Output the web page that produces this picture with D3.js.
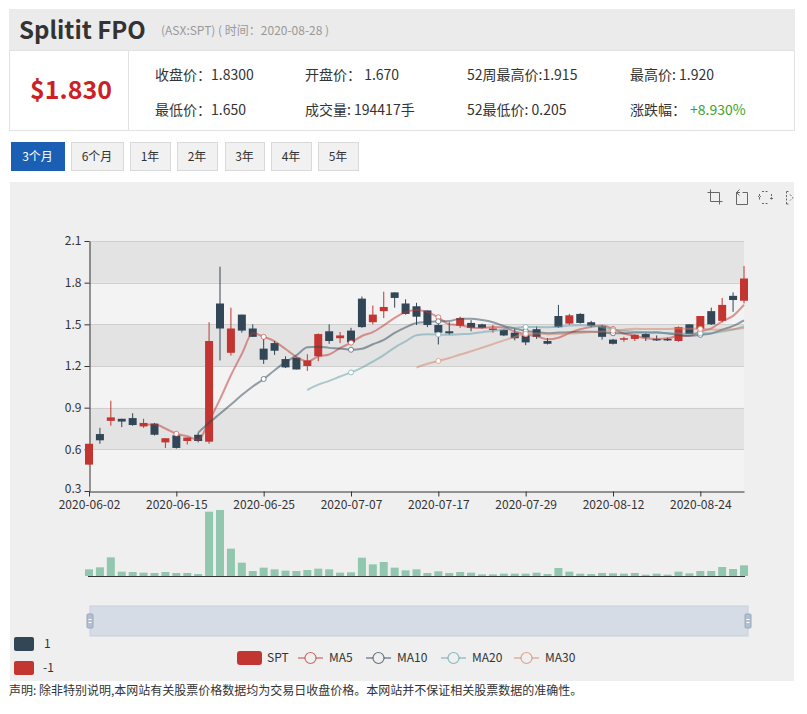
<!DOCTYPE html>
<html>
<head>
<meta charset="utf-8">
<script src="https://cdn.jsdelivr.net/npm/d3@7"></script>
<style>
  body { margin: 0; background: #fff; }
  svg { display: block; font-family: "Noto Sans CJK SC", "Noto Sans", sans-serif; }
</style>
</head>
<body>
<script>
// trading days shown in the 3 month view
var dates = [
  "2020-06-02","2020-06-03","2020-06-04","2020-06-05","2020-06-09","2020-06-10","2020-06-11","2020-06-12",
  "2020-06-15","2020-06-16","2020-06-17","2020-06-18","2020-06-19","2020-06-22","2020-06-23","2020-06-24",
  "2020-06-25","2020-06-26","2020-06-29","2020-06-30","2020-07-01","2020-07-02","2020-07-03","2020-07-06",
  "2020-07-07","2020-07-08","2020-07-09","2020-07-10","2020-07-13","2020-07-14","2020-07-15","2020-07-16",
  "2020-07-17","2020-07-20","2020-07-21","2020-07-22","2020-07-23","2020-07-24","2020-07-27","2020-07-28",
  "2020-07-29","2020-07-30","2020-07-31","2020-08-03","2020-08-04","2020-08-05","2020-08-06","2020-08-07",
  "2020-08-12","2020-08-13","2020-08-14","2020-08-17","2020-08-18","2020-08-19","2020-08-20","2020-08-21",
  "2020-08-24","2020-08-25","2020-08-26","2020-08-27","2020-08-28"
];
var opens = [
  0.49,0.71,0.805,0.82,0.825,0.765,0.785,0.65,0.70,0.66,0.705,0.655,1.65,1.295,1.57,1.47,
  1.325,1.365,1.25,1.26,1.20,1.27,1.45,1.40,1.455,1.685,1.515,1.595,1.73,1.65,1.63,1.60,
  1.495,1.45,1.49,1.51,1.50,1.46,1.46,1.44,1.42,1.465,1.38,1.56,1.505,1.575,1.515,1.485,
  1.39,1.39,1.395,1.43,1.395,1.395,1.38,1.50,1.465,1.595,1.525,1.705,1.67
];
var closes = [
  0.64,0.665,0.83,0.80,0.775,0.79,0.705,0.68,0.61,0.685,0.66,1.38,1.47,1.47,1.455,1.41,
  1.245,1.31,1.19,1.175,1.24,1.43,1.38,1.42,1.37,1.48,1.57,1.625,1.69,1.575,1.555,1.495,
  1.44,1.435,1.545,1.475,1.475,1.47,1.42,1.40,1.37,1.41,1.36,1.48,1.565,1.51,1.49,1.41,
  1.36,1.40,1.425,1.405,1.385,1.385,1.48,1.43,1.56,1.50,1.64,1.675,1.83
];
var lows = [
  0.49,0.64,0.77,0.76,0.77,0.755,0.70,0.61,0.605,0.635,0.65,0.64,1.24,1.275,1.44,1.41,
  1.215,1.28,1.185,1.175,1.165,1.235,1.36,1.365,1.35,1.475,1.50,1.545,1.62,1.57,1.495,1.48,
  1.355,1.425,1.475,1.45,1.47,1.44,1.415,1.385,1.35,1.395,1.355,1.475,1.495,1.505,1.48,1.39,
  1.355,1.375,1.38,1.38,1.38,1.38,1.375,1.43,1.445,1.495,1.515,1.59,1.65
];
var highs = [
  0.64,0.755,0.95,0.82,0.86,0.82,0.79,0.68,0.725,0.685,0.72,1.515,1.915,1.62,1.57,1.50,
  1.395,1.38,1.27,1.26,1.285,1.435,1.50,1.445,1.475,1.70,1.635,1.735,1.73,1.68,1.655,1.60,
  1.515,1.515,1.555,1.53,1.505,1.495,1.465,1.47,1.49,1.485,1.40,1.64,1.575,1.58,1.525,1.495,
  1.395,1.41,1.43,1.435,1.42,1.405,1.485,1.50,1.56,1.62,1.69,1.73,1.92
];
var volumes = [
  121500,158000,340200,79000,72900,60750,54700,72900,54700,54700,36450,1172500,1202900,498200,243000,91100,
  151900,121500,97200,91100,109400,133700,121500,60750,66800,334100,212600,255200,151900,103300,121500,54700,
  85000,54700,72900,60750,30400,30400,42500,42500,42500,60750,36450,145800,79000,42500,36450,54700,
  48600,42500,54700,24300,42500,24300,79000,48600,91100,91100,164000,127600,194417
];
var yTicks = [0.3, 0.6, 0.9, 1.2, 1.5, 1.8, 2.1];
var maDays = [5, 10, 20, 30];
var maNames = ["MA5", "MA10", "MA20", "MA30"];
var maColors = ["#c23531", "#2f4554", "#61a0a8", "#d48265"];
var periods = ["3个月", "6个月", "1年", "2年", "3年", "4年", "5年"];

var upColor = "#c23531", downColor = "#314656";

var width = 807, height = 714;
var svg = d3.select("body").append("svg")
    .attr("width", width)
    .attr("height", height);

// ---- header block ----
svg.append("rect").attr("x", 9).attr("y", 9).attr("width", 786).attr("height", 41).attr("fill", "#ebebeb");
svg.append("rect").attr("x", 9.5).attr("y", 50.5).attr("width", 785).attr("height", 80)
    .attr("fill", "#fff").attr("stroke", "#e2e2e2");
svg.append("line").attr("x1", 128.5).attr("x2", 128.5).attr("y1", 50).attr("y2", 130).attr("stroke", "#e2e2e2");

svg.append("text").attr("x", 19).attr("y", 39)
    .attr("font-size", 24).attr("font-weight", "bold").attr("fill", "#333")
    .text("Splitit FPO");
svg.append("text").attr("x", 161).attr("y", 35)
    .attr("font-size", 12).attr("fill", "#999")
    .text("(ASX:SPT) ( 时间：2020-08-28 )");

svg.append("text").attr("x", 30).attr("y", 99)
    .attr("font-size", 25).attr("font-weight", "bold").attr("fill", "#cc1f26")
    .text("$1.830");

var infoRows = [
  ["收盘价：1.8300", "开盘价：  1.670", "52周最高价:1.915", "最高价: 1.920"],
  ["最低价：1.650", "成交量: 194417手", "52最低价: 0.205", "涨跌幅："]
];
var infoCols = [155, 305, 467, 630];
infoRows.forEach(function(row, r) {
  row.forEach(function(t, c) {
    svg.append("text").attr("x", infoCols[c]).attr("y", 80 + r * 35)
      .attr("font-size", 14).attr("fill", "#333").text(t);
  });
});
svg.append("text").attr("x", 690).attr("y", 115)
    .attr("font-size", 14).attr("fill", "#3da22a").text("+8.930%");

// period buttons
var btnX = [11, 71, 130, 177, 225, 271, 318];
var btnW = [53, 52, 40, 40, 39, 40, 40];
periods.forEach(function(p, i) {
  var active = i === 0;
  svg.append("rect").attr("x", btnX[i] + 0.5).attr("y", 142.5).attr("width", btnW[i]).attr("height", 28)
    .attr("fill", active ? "#1b5fb4" : "#f1f1f1").attr("stroke", active ? "#1b5fb4" : "#d9d9d9");
  svg.append("text").attr("x", btnX[i] + btnW[i] / 2).attr("y", 161)
    .attr("text-anchor", "middle").attr("font-size", 12)
    .attr("fill", active ? "#fff" : "#333").text(p);
});

// ---- chart container ----
svg.append("rect").attr("x", 10).attr("y", 182).attr("width", 784).attr("height", 499).attr("fill", "#efeff0");

var x = d3.scalePoint().domain(dates).range([89, 744]);
var y = d3.scaleLinear().domain([0.3, 2.1]).range([491, 241]);
var yv = d3.scaleLinear().domain([0, d3.max(volumes)]).range([576, 510]);

// split areas and lines
for (var k = 0; k < yTicks.length - 1; k++) {
  svg.append("rect").attr("x", 89).attr("width", 744 - 89)
    .attr("y", y(yTicks[k + 1])).attr("height", y(yTicks[k]) - y(yTicks[k + 1]))
    .attr("fill", k % 2 === 0 ? "#f3f3f4" : "#e3e3e4");
}
svg.append("g").selectAll("line").data(yTicks.slice(1)).enter().append("line")
  .attr("x1", 89).attr("x2", 744)
  .attr("y1", function(d) { return Math.round(y(d)) + 0.5; })
  .attr("y2", function(d) { return Math.round(y(d)) + 0.5; })
  .attr("stroke", "#cfcfcf");

// axes
var yAxis = svg.append("g").attr("transform", "translate(89.5,0)")
  .call(d3.axisLeft(y).tickValues(yTicks).tickFormat(d3.format(".1f")).tickSize(5).tickSizeOuter(0).tickPadding(3));
var xAxis = svg.append("g").attr("transform", "translate(0,491.5)")
  .call(d3.axisBottom(x).tickValues(dates.filter(function(d, i) { return i % 8 === 0; })).tickSize(5).tickSizeOuter(0).tickPadding(4));
[yAxis, xAxis].forEach(function(a) {
  a.select(".domain").attr("stroke", "#333");
  a.selectAll(".tick line").attr("stroke", "#333");
  a.selectAll(".tick text").attr("fill", "#333").attr("font-size", 12)
    .attr("font-family", "\"Noto Sans CJK SC\", \"Noto Sans\", sans-serif");
});
// lift the lowest price label a touch so it clears the first date
yAxis.selectAll(".tick text").filter(function(d) { return d === 0.3; }).attr("dy", "0.1em");

// moving averages (same rule as the page: window ends at i, starts after dayCount)
function calculateMA(dayCount) {
  var result = [];
  for (var i = 0; i < closes.length; i++) {
    if (i < dayCount) { result.push(null); continue; }
    var sum = 0;
    for (var j = 0; j < dayCount; j++) sum += closes[i - j];
    result.push(sum / dayCount);
  }
  return result;
}

// candles
var cw = 8;
var candles = svg.append("g").selectAll("g").data(dates).enter().append("g");
candles.append("line")
  .attr("x1", function(d) { return x(d); }).attr("x2", function(d) { return x(d); })
  .attr("y1", function(d, i) { return y(highs[i]); })
  .attr("y2", function(d, i) { return y(lows[i]); })
  .attr("stroke", function(d, i) { return closes[i] >= opens[i] ? upColor : downColor; })
  .attr("stroke-width", 1);
candles.append("rect")
  .attr("x", function(d) { return x(d) - cw / 2; })
  .attr("width", cw)
  .attr("y", function(d, i) { return y(Math.max(opens[i], closes[i])); })
  .attr("height", function(d, i) { return Math.max(1.5, Math.abs(y(opens[i]) - y(closes[i]))); })
  .attr("fill", function(d, i) { return closes[i] >= opens[i] ? upColor : downColor; });

var maLine = d3.line()
  .defined(function(d) { return d.v != null; })
  .x(function(d) { return x(d.date); })
  .y(function(d) { return y(d.v); })
  .curve(d3.curveMonotoneX);

maDays.forEach(function(n, s) {
  var pts = calculateMA(n).map(function(v, i) { return { date: dates[i], v: v, i: i }; });
  svg.append("path").attr("d", maLine(pts))
    .attr("fill", "none").attr("stroke", maColors[s]).attr("stroke-width", 2).attr("stroke-opacity", 0.5);
  svg.append("g").selectAll("circle")
    .data(pts.filter(function(p) { return p.v != null && p.i % 8 === 0; }))
    .enter().append("circle")
    .attr("cx", function(p) { return x(p.date); })
    .attr("cy", function(p) { return y(p.v); })
    .attr("r", 2.5)
    .attr("fill", "#fff").attr("stroke", maColors[s]).attr("stroke-opacity", 0.6);
});

// volume bars
svg.append("g").selectAll("rect").data(volumes).enter().append("rect")
  .attr("x", function(d, i) { return x(dates[i]) - cw / 2; })
  .attr("width", cw)
  .attr("y", function(d) { return yv(d); })
  .attr("height", function(d) { return 576 - yv(d); })
  .attr("fill", "#91c7ae");
svg.append("line").attr("x1", 88).attr("x2", 745).attr("y1", 576.5).attr("y2", 576.5).attr("stroke", "#333");

// data zoom slider
svg.append("rect").attr("x", 90).attr("y", 606).attr("width", 658).attr("height", 30)
  .attr("fill", "#d6dce6").attr("stroke", "#c8cfdb");
[90, 748].forEach(function(hx) {
  svg.append("rect").attr("x", hx - 3).attr("y", 614).attr("width", 6).attr("height", 14).attr("rx", 1)
    .attr("fill", "#b3bfd0").attr("stroke", "#9aa8bd");
  svg.append("line").attr("x1", hx - 1.5).attr("x2", hx + 1.5).attr("y1", 619.5).attr("y2", 619.5).attr("stroke", "#fff");
  svg.append("line").attr("x1", hx - 1.5).attr("x2", hx + 1.5).attr("y1", 622.5).attr("y2", 622.5).attr("stroke", "#fff");
});

// legend
svg.append("rect").attr("x", 237).attr("y", 651).attr("width", 25).attr("height", 14).attr("rx", 3).attr("fill", upColor);
svg.append("text").attr("x", 267).attr("y", 662).attr("font-size", 12).attr("fill", "#333").text("SPT");
var legX = [298, 366, 441, 514];
maNames.forEach(function(n, s) {
  var lx = legX[s];
  svg.append("line").attr("x1", lx).attr("x2", lx + 25).attr("y1", 658).attr("y2", 658)
    .attr("stroke", maColors[s]).attr("stroke-width", 1.5).attr("stroke-opacity", 0.6);
  svg.append("circle").attr("cx", lx + 12.5).attr("cy", 658).attr("r", 5.5)
    .attr("fill", "#efeff0").attr("stroke", maColors[s]).attr("stroke-width", 1.2).attr("stroke-opacity", 0.7);
  svg.append("text").attr("x", lx + 31).attr("y", 662).attr("font-size", 12).attr("fill", "#333").text(n);
});

// visual map pieces
svg.append("rect").attr("x", 14).attr("y", 637).attr("width", 20).attr("height", 14).attr("rx", 2).attr("fill", downColor);
svg.append("text").attr("x", 44).attr("y", 648).attr("font-size", 12).attr("fill", "#333").text("1");
svg.append("rect").attr("x", 14).attr("y", 661).attr("width", 20).attr("height", 14).attr("rx", 2).attr("fill", upColor);
svg.append("text").attr("x", 43).attr("y", 672).attr("font-size", 12).attr("fill", "#333").text("-1");

// toolbox icons
var tb = svg.append("g").attr("fill", "none").attr("stroke", "#666").attr("stroke-width", 1);
tb.append("path").attr("d", "M707.5,192.5H719.5V204.5 M710.5,189.5V201.5H722.5");
tb.append("path").attr("d", "M736.5,192.5V204.5H747.5V192.5H742.5 M736.5,192.5L739.5,189.5 M736.5,192.5L739.5,195.5 M736.5,192.5H740");
tb.append("path").attr("d", "M762,191.5H769 M762,203.5H769 M759.5,194V201 M771.5,194V201 M759.5,197.5L757.5,195.5 M759.5,197.5L761.5,195.5 M771.5,197.5L769.5,199.5 M771.5,197.5L773.5,199.5")
  .attr("stroke-dasharray", "2,1.5");
tb.append("path").attr("d", "M786.5,191.5H789 M786.5,191.5V204 M786.5,204H789 M790,194.5L793,197.5L790,200.5").attr("stroke-dasharray", "2,1.5");

// footer
svg.append("text").attr("x", 9).attr("y", 695).attr("font-size", 12).attr("fill", "#333")
  .text("声明: 除非特别说明,本网站有关股票价格数据均为交易日收盘价格。本网站并不保证相关股票数据的准确性。");
</script>
</body>
</html>
